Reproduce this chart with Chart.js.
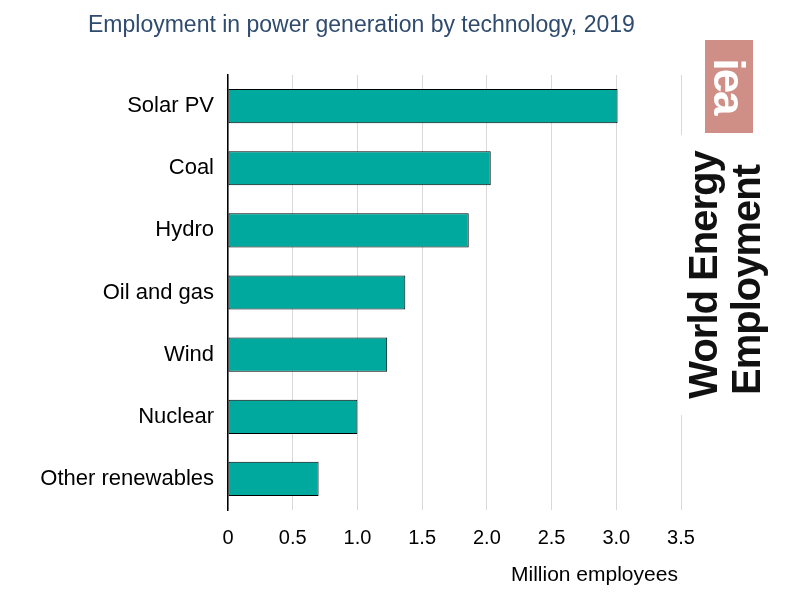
<!DOCTYPE html>
<html><head><meta charset="utf-8">
<script src="https://cdn.jsdelivr.net/npm/chart.js@4"></script>
<style>
body{margin:0;background:#fff;font-family:"Liberation Sans",Arial,sans-serif;}
#wrap{position:relative;width:789px;height:609px;}
canvas{position:absolute;left:0;top:0;}
.t{position:absolute;white-space:nowrap;}
</style></head><body>
<div id="wrap">
<canvas id="c" width="789" height="609"></canvas>
<div class="t" style="left:88px;top:11px;font-size:23px;color:#2f4b6e;">Employment in power generation by technology, 2019</div>
<div class="t" style="left:511px;top:562px;font-size:21px;color:#000;">Million employees</div>
<div class="t" style="left:676px;top:135px;width:90px;height:280px;background:#fff;"></div>
<div class="t" style="left:705px;top:40px;width:48px;height:93px;background:#d08f86;"></div>
<div class="t" style="left:729px;top:86px;transform:translate(-50%,-50%) rotate(90deg);font-size:44px;font-weight:bold;color:#fff;letter-spacing:-2px;line-height:1;">iea</div>
<div class="t" style="left:703px;top:275px;transform:translate(-50%,-50%) rotate(-90deg);font-size:40px;font-weight:bold;color:#111;letter-spacing:-1px;line-height:1;">World Energy</div>
<div class="t" style="left:746px;top:280px;transform:translate(-50%,-50%) rotate(-90deg);font-size:40px;font-weight:bold;color:#111;letter-spacing:-1px;line-height:1;">Employment</div>
</div>
<script>
const categories=["Solar PV","Coal","Hydro","Oil and gas","Wind","Nuclear","Other renewables"];
const values=[3.01,2.03,1.86,1.37,1.23,1.0,0.70];
new Chart(document.getElementById('c'),{
type:'bar',
data:{labels:categories,datasets:[{data:values,backgroundColor:'#00a99d',borderColor:'#000',borderWidth:1,borderSkipped:false,barPercentage:0.55,categoryPercentage:1}]},
options:{indexAxis:'y',responsive:false,animation:false,
layout:{padding:{top:75,right:108,left:0,bottom:0}},
plugins:{legend:{display:false},tooltip:{enabled:false}},
scales:{
x:{min:0,max:3.5,ticks:{stepSize:0.5,color:'#000',font:{size:20,family:'Liberation Sans'},padding:16,callback:v=>v===0?'0':v.toFixed(1)},
grid:{color:'#d9d9d9',drawTicks:false},border:{display:false},afterFit:s=>{s.height=99;}},
y:{ticks:{color:'#000',font:{size:22,family:'Liberation Sans'},padding:14},grid:{display:false,drawTicks:false},border:{color:'#000',width:1.5},afterFit:s=>{s.width=228;}}
}}});
</script>
</body></html>
